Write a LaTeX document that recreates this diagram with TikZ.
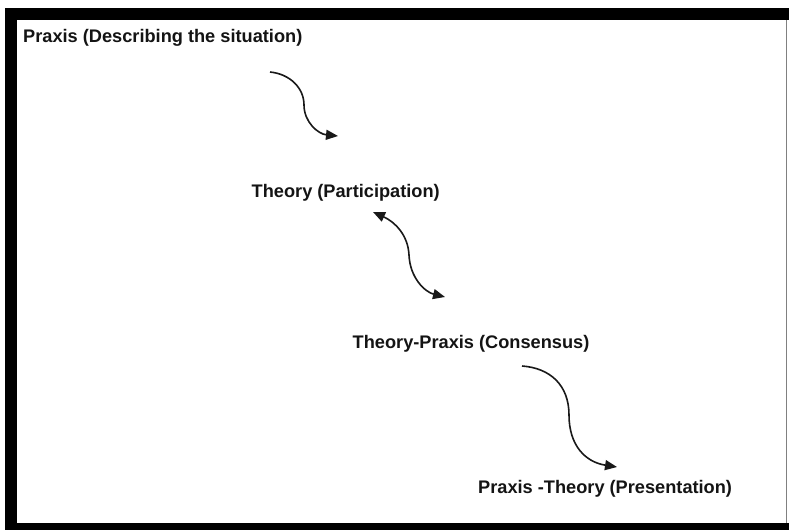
\documentclass[tikz,border=0pt]{standalone}
\usepackage{fontspec}
\setmainfont{Liberation Sans}
\usetikzlibrary{arrows.meta}
\begin{document}
\begin{tikzpicture}[x=1pt,y=-1pt,
  lbl/.style={anchor=base west,inner sep=0pt,font=\fontsize{18.2}{20}\selectfont\bfseries,text=black!92},
  mytip/.tip={Triangle[length=12pt,width=10pt]},
  conn/.style={line width=1.6pt,draw=black!90}]
\useasboundingbox (0,0) rectangle (789,530);
\fill[white] (0,0) rectangle (789,530);
\fill[black] (5,8) rectangle (789,530);
\fill[white] (17,20) rectangle (789,523);
\draw[gray,line width=1.5pt] (786.5,20) -- (786.5,523);

\node[lbl] (p1) at (23,42) {Praxis (Describing the situation)};
\node[lbl] (p2) at (251.5,197) {Theory (Participation)};
\node[lbl] (p3) at (352.5,348) {Theory-Praxis (Consensus)};
\node[lbl] (p4) at (478,493) {Praxis -Theory (Presentation)};

\coordinate (a1s) at (270,72);
\coordinate (a1m) at (304,105);
\coordinate (a1e) at (338,136);
\coordinate (a2s) at (373,212);
\coordinate (a2m) at (409,255);
\coordinate (a2e) at (445,297);
\coordinate (a3s) at (522,366);
\coordinate (a3m) at (569,415);
\coordinate (a3e) at (617,467);

\draw[conn,-mytip] (a1s) .. controls (290,74) and (304,88) .. (a1m)
  .. controls (304,122) and (318,134) .. (a1e);
\draw[conn,mytip-mytip] (a2s) .. controls (395,222) and (408,235) .. (a2m)
  .. controls (410,278) and (425,292) .. (a2e);
\draw[conn,-mytip] (a3s) .. controls (550,368) and (569,385) .. (a3m)
  .. controls (569,445) and (585,462) .. (a3e);
\end{tikzpicture}
\end{document}
